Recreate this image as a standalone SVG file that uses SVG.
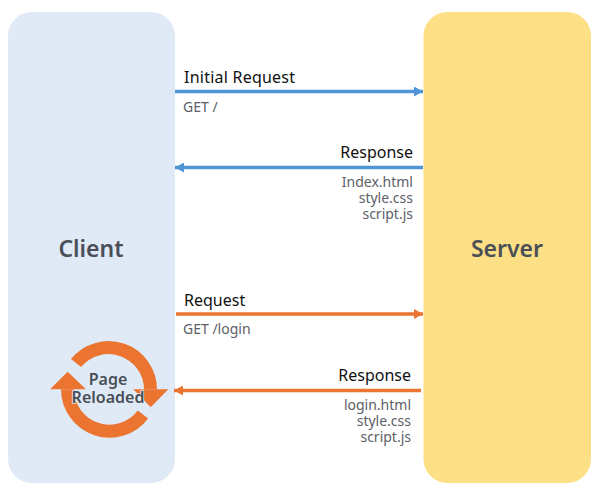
<svg xmlns="http://www.w3.org/2000/svg" width="600" height="490" viewBox="0 0 600 490">
<style>
text{font-family:"Noto Sans","Open Sans","Liberation Sans",sans-serif}
.t{font-size:16px;fill:#111}
.s{font-size:14px;fill:#5c6066}
.h{font-size:23px;font-weight:600;fill:#4a4f57}
.e{text-anchor:end}
.m{text-anchor:middle}
.b{stroke:#4f94d4;stroke-width:3.500;fill:none}
.o{stroke:#ea7430;stroke-width:3.500;fill:none}
.r{font-size:16px;font-weight:600;fill:#4a4f57;text-anchor:middle;stroke:#e0eaf7;stroke-width:1.500;paint-order:stroke}
</style>
<defs>
<marker id="ab" markerUnits="userSpaceOnUse" markerWidth="10" markerHeight="10" refX="9" refY="5" orient="auto-start-reverse"><path d="M0 0L9 5L0 10Z" fill="#4f94d4"/></marker>
<marker id="ao" markerUnits="userSpaceOnUse" markerWidth="10" markerHeight="10" refX="9" refY="5" orient="auto-start-reverse"><path d="M0 0L9 5L0 10Z" fill="#ea7430"/></marker>
</defs>
<rect width="600" height="490" fill="#fff"/>
<g id="client"><rect x="8" y="12" width="167" height="471" rx="24" fill="#e0eaf7"/><text class="h m" x="91" y="257">Client</text></g>
<g id="server"><rect x="423.500" y="12" width="167.500" height="471" rx="24" fill="#fddf85"/><text class="h m" x="507" y="257">Server</text></g>
<g id="connectors">
<path class="b" d="M175 91.500H423" marker-end="url(#ab)"/>
<path class="b" d="M423 167.500H175" marker-end="url(#ab)"/>
<path class="o" d="M176 314H423" marker-end="url(#ao)"/>
<path class="o" d="M421 390.500H174" marker-end="url(#ao)"/>
</g>
<g id="labels">
<text class="t" x="184" y="83" textLength="111" lengthAdjust="spacing">Initial Request</text>
<text class="s" x="183" y="112">GET /</text>
<text class="t e" x="413" y="158">Response</text>
<text class="s e"><tspan x="413" y="187">Index.html</tspan><tspan x="413" y="203">style.css</tspan><tspan x="413" y="219">script.js</tspan></text>
<text class="t" x="184" y="306">Request</text>
<text class="s" x="183" y="334">GET /login</text>
<text class="t e" x="411" y="381">Response</text>
<text class="s e"><tspan x="411" y="410">login.html</tspan><tspan x="411" y="426">style.css</tspan><tspan x="411" y="442">script.js</tspan></text>
</g>
<g id="reload">
<path d="M76 363A42 42 0 0 1 150.500 389.300" fill="none" stroke="#ea7430" stroke-width="13"/>
<path d="M143 414.500A42 42 0 0 1 67.500 389.300" fill="none" stroke="#ea7430" stroke-width="13"/>
<path d="M133.300 389.300H168.300L150.700 407.300Z" fill="#ea7430"/>
<path d="M50 389.300H86L67.700 371.700Z" fill="#ea7430"/>
<text class="r"><tspan x="108" y="385">Page</tspan><tspan x="108" y="403">Reloaded</tspan></text>
</g>
</svg>
